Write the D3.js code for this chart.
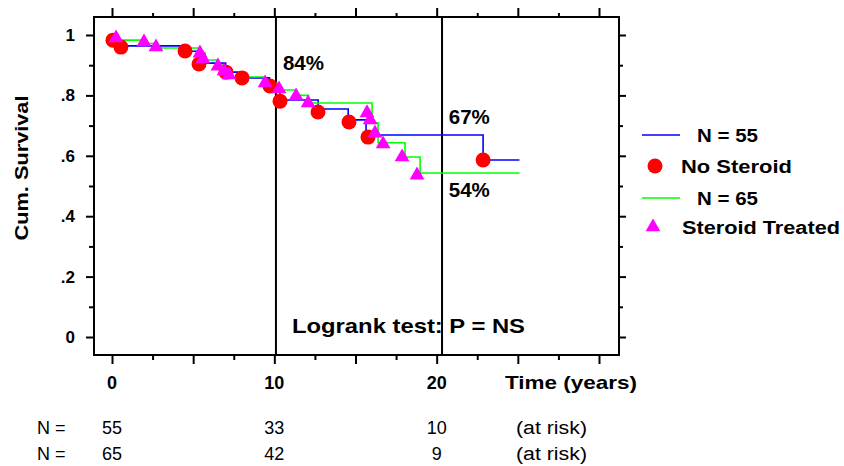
<!DOCTYPE html>
<html><head><meta charset="utf-8">
<script src="https://cdn.jsdelivr.net/npm/d3@7"></script>
<style>
html,body{margin:0;padding:0;background:#fff;}
svg text{font-family:"Liberation Sans",Arial,sans-serif;fill:#000;}
</style></head>
<body><svg id="c" width="844" height="466"></svg>
<script>
// ---------- data ----------
const noSteroidTimes = [0.06, 0.55, 4.5, 5.36, 7.0, 8.0, 9.7, 10.35, 12.7, 14.55, 15.65, 22.86];
const noSteroidSurv  = [0.983, 0.964, 0.946, 0.907, 0.877, 0.858, 0.83, 0.785, 0.755, 0.719, 0.669, 0.586];
const noSteroidMarkT = [0.06, 0.55, 4.5, 5.36, 7.02, 8.01, 9.73, 10.35, 12.69, 14.6, 15.77, 22.86];
const noSteroidMarkS = [0.983, 0.960, 0.947, 0.904, 0.877, 0.858, 0.831, 0.781, 0.745, 0.712, 0.662, 0.586];
const steroidTimes = [0.2, 2.0, 2.7, 5.4, 5.75, 6.45, 6.85, 7.2, 9.4, 10.2, 10.4, 11.35, 12.1, 16.02, 16.39, 18.05, 18.98];
const steroidSurv  = [0.983, 0.972, 0.957, 0.94, 0.917, 0.90, 0.88, 0.861, 0.841, 0.825, 0.818, 0.80, 0.775, 0.709, 0.643, 0.596, 0.543];
const steroidMarkT = [0.25, 1.97, 2.71, 5.42, 5.61, 6.53, 6.90, 7.21, 9.43, 10.29, 11.34, 12.08, 15.71, 15.90, 16.20, 16.70, 17.87, 18.79];
const steroidMarkS = [0.990, 0.977, 0.960, 0.940, 0.921, 0.897, 0.881, 0.868, 0.841, 0.821, 0.798, 0.775, 0.742, 0.719, 0.675, 0.639, 0.596, 0.536];
const followUpEnd = 25.1;
const refLineTimes = [10.1, 20.33];
const xMajorTicks = [0, 5, 10, 15, 20, 25, 30];
const xMinorTicks = [2.5, 7.5, 12.5, 17.5, 22.5, 27.5];
const xTickLabels = [0, 10, 20];
const yMajorTicks = [0, 0.2, 0.4, 0.6, 0.8, 1];
const yMinorTicks = [0.1, 0.3, 0.5, 0.7, 0.9];
const yTickText = ["0", ".2", ".4", ".6", ".8", "1"];
const atRiskTimes = [0, 10, 20];
const noSteroidAtRisk = [55, 33, 10];
const steroidAtRisk = [65, 42, 9];
const legendLabels = ["N = 55", "No Steroid", "N = 65", "Steroid Treated"];
const pctLabels = ["84%", "67%", "54%"];

// ---------- layout ----------
const svg = d3.select("#c");
const frame = {l: 94, r: 619, t: 17, b: 355};
const x = d3.scaleLinear().domain([0, 30]).range([112, 599]);
const y = d3.scaleLinear().domain([0, 1]).range([337, 35]);
const BLUE = "#0000ff", GREEN = "#00ff00", RED = "#ff0000", MAG = "#ff00ff";

// frame
svg.append("rect").attr("x", frame.l).attr("y", frame.t)
  .attr("width", frame.r - frame.l).attr("height", frame.b - frame.t)
  .attr("fill", "none").attr("stroke", "#000").attr("stroke-width", 2);

function ax(gen, tr, ticks, size) {
  const g = svg.append("g").attr("transform", tr)
    .call(gen.tickValues(ticks).tickSize(size).tickFormat(""));
  g.select(".domain").remove();
  g.selectAll(".tick line").attr("stroke", "#000").attr("stroke-width", 2);
}
ax(d3.axisLeft(y), `translate(${frame.l},0)`, yMajorTicks, 8);
ax(d3.axisLeft(y), `translate(${frame.l},0)`, yMinorTicks, 5);
ax(d3.axisRight(y), `translate(${frame.r},0)`, yMajorTicks, 7);
ax(d3.axisRight(y), `translate(${frame.r},0)`, yMinorTicks, 4);
ax(d3.axisTop(x), `translate(0,${frame.t})`, xMajorTicks, 9);
ax(d3.axisTop(x), `translate(0,${frame.t})`, xMinorTicks, 4);
ax(d3.axisBottom(x), `translate(0,${frame.b})`, xMajorTicks, 9);
ax(d3.axisBottom(x), `translate(0,${frame.b})`, xMinorTicks, 5);

// tick labels
svg.selectAll(".ylab").data(yMajorTicks).enter().append("text")
  .attr("x", 75).attr("y", d => y(d) + 6).attr("text-anchor", "end")
  .attr("font-size", 17).attr("font-weight", "bold")
  .text((d, i) => yTickText[i]);
svg.selectAll(".xlab").data(xTickLabels).enter().append("text")
  .attr("x", d => x(d)).attr("y", 389).attr("text-anchor", "middle")
  .attr("font-size", 18).attr("font-weight", "bold").text(d => d);
svg.append("text").attr("x", 505).attr("y", 389).attr("font-size", 19)
  .attr("font-weight", "bold").attr("textLength", 132).attr("lengthAdjust", "spacingAndGlyphs")
  .text("Time (years)");
svg.append("text").attr("transform", "translate(28,168) rotate(-90)")
  .attr("text-anchor", "middle").attr("font-size", 19).attr("font-weight", "bold")
  .attr("textLength", 145).attr("lengthAdjust", "spacingAndGlyphs")
  .text("Cum. Survival");

// reference lines
svg.selectAll(".ref").data(refLineTimes).enter().append("line")
  .attr("x1", d => x(d)).attr("x2", d => x(d)).attr("y1", frame.t).attr("y2", frame.b)
  .attr("stroke", "#000").attr("stroke-width", 2);

// curves
const step = d3.line().x(d => x(d[0])).y(d => y(d[1])).curve(d3.curveStepAfter);
function pts(T, S) {
  const p = [[0, 1]];
  T.forEach((t, i) => p.push([t, S[i]]));
  p.push([followUpEnd, S[S.length - 1]]);
  return p;
}
svg.append("path").attr("d", step(pts(noSteroidTimes, noSteroidSurv)))
  .attr("fill", "none").attr("stroke", BLUE).attr("stroke-width", 1.6);
svg.append("path").attr("d", step(pts(steroidTimes, steroidSurv)))
  .attr("fill", "none").attr("stroke", GREEN).attr("stroke-width", 1.6);

// markers
svg.selectAll(".c").data(noSteroidMarkT).enter().append("circle")
  .attr("cx", d => x(d)).attr("cy", (d, i) => y(noSteroidMarkS[i])).attr("r", 7.5).attr("fill", RED);
const tri = d3.symbol().type(d3.symbolTriangle).size(95);
svg.selectAll(".t").data(steroidMarkT).enter().append("path")
  .attr("d", tri).attr("transform", (d, i) => `translate(${x(d)},${y(steroidMarkS[i])})`).attr("fill", MAG);

// annotations
const pctPos = [[10.53, 0.884], [20.75, 0.706], [20.75, 0.465]];
svg.selectAll(".pct").data(pctLabels).enter().append("text")
  .attr("x", (d, i) => x(pctPos[i][0])).attr("y", (d, i) => y(pctPos[i][1]))
  .attr("font-size", 20).attr("font-weight", "bold").attr("textLength", 41)
  .attr("lengthAdjust", "spacingAndGlyphs").text(d => d);
svg.append("text").attr("x", 292).attr("y", 333).attr("font-size", 21).attr("font-weight", "bold")
  .attr("textLength", 233).attr("lengthAdjust", "spacingAndGlyphs")
  .text("Logrank test: P = NS");

// legend
const lg = svg.append("g");
const rows = [135, 166, 198, 227];
lg.append("line").attr("x1", 642).attr("x2", 680).attr("y1", rows[0]).attr("y2", rows[0]).attr("stroke", BLUE).attr("stroke-width", 1.6);
lg.append("circle").attr("cx", 655).attr("cy", rows[1]).attr("r", 7.5).attr("fill", RED);
lg.append("line").attr("x1", 642).attr("x2", 680).attr("y1", rows[2]).attr("y2", rows[2]).attr("stroke", GREEN).attr("stroke-width", 1.6);
lg.append("path").attr("d", tri).attr("transform", `translate(653,${rows[3]})`).attr("fill", MAG);
const lgX = [697, 681, 697, 682], lgW = [61, 111, 61, 158];
legendLabels.forEach((s, i) => {
  lg.append("text").attr("x", lgX[i]).attr("y", rows[i] + 7).attr("font-size", 18)
    .attr("font-weight", "bold").attr("textLength", lgW[i]).attr("lengthAdjust", "spacingAndGlyphs").text(s);
});

// at-risk table
const tb = svg.append("g");
[[noSteroidAtRisk, 434], [steroidAtRisk, 460]].forEach(([vals, yy]) => {
  tb.append("text").attr("x", 37).attr("y", yy).attr("font-size", 18).text("N =");
  vals.forEach((v, i) => tb.append("text").attr("x", x(atRiskTimes[i])).attr("y", yy)
    .attr("text-anchor", "middle").attr("font-size", 18).text(v));
  tb.append("text").attr("x", 516).attr("y", yy).attr("font-size", 18)
    .attr("textLength", 71).attr("lengthAdjust", "spacingAndGlyphs").text("(at risk)");
});
</script></body></html>
